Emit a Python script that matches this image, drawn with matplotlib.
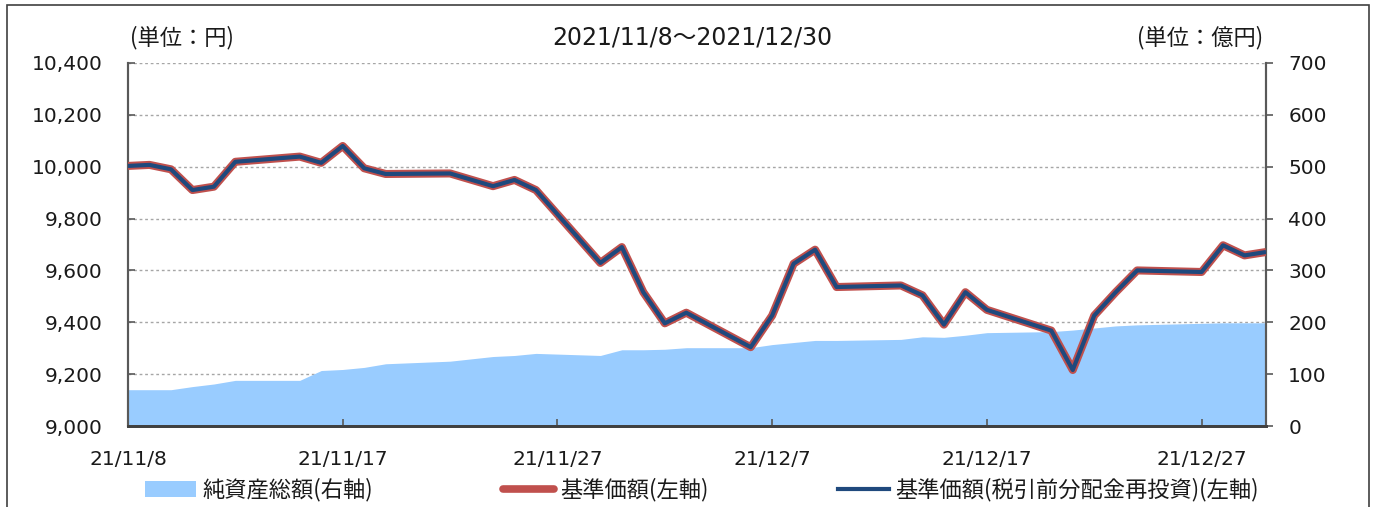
import matplotlib
matplotlib.use("Agg")
import matplotlib.pyplot as plt
import numpy as np
import pandas as pd
from matplotlib.lines import Line2D
from matplotlib.patches import Patch, Rectangle

# ---------------- data ----------------
dates = ["2021-11-07", "2021-11-08", "2021-11-09", "2021-11-10", "2021-11-11", "2021-11-12",
         "2021-11-15", "2021-11-16", "2021-11-17", "2021-11-18", "2021-11-19",
         "2021-11-22", "2021-11-24", "2021-11-25", "2021-11-26",
         "2021-11-29", "2021-11-30", "2021-12-01", "2021-12-02", "2021-12-03",
         "2021-12-06", "2021-12-07", "2021-12-08", "2021-12-09", "2021-12-10",
         "2021-12-13", "2021-12-14", "2021-12-15", "2021-12-16", "2021-12-17",
         "2021-12-20", "2021-12-21", "2021-12-22", "2021-12-23", "2021-12-24",
         "2021-12-27", "2021-12-28", "2021-12-29", "2021-12-30"]

nav = [10003, 10007, 9990, 9910, 9923, 10019,
       10039, 10015, 10080, 9994, 9972,
       9974, 9925, 9949, 9910,
       9629, 9690, 9516, 9396, 9437,
       9304, 9426, 9626, 9680, 9536,
       9542, 9504, 9391, 9516, 9448,
       9368, 9216, 9426, 9516, 9600,
       9594, 9697, 9658, 9671]

nav_reinvest = list(nav)

net_assets = [70, 70, 70, 76, 81, 88,
              88, 107, 109, 113, 120,
              125, 134, 136, 140,
              136, 147, 147, 148, 151,
              151, 157, 161, 165, 165,
              167, 172, 171, 175, 180,
              182, 185, 189, 193, 195,
              198, 199, 199, 199]

x_tick_labels = ["21/11/8", "21/11/17", "21/11/27", "21/12/7", "21/12/17", "21/12/27"]
left_ticks = [9000, 9200, 9400, 9600, 9800, 10000, 10200, 10400]
right_ticks = [0, 100, 200, 300, 400, 500, 600, 700]

series_labels = ["純資産総額(右軸)", "基準価額(左軸)", "基準価額(税引前分配金再投資)(左軸)"]
title_text = "2021/11/8～2021/12/30"
left_unit = "(単位：円)"
right_unit = "(単位：億円)"

# ---------------- style ----------------
C_AREA = "#99CCFF"
C_RED = "#C0504D"
C_BLUE = "#1F497D"
C_GRID = "#A6A6A6"
C_AXIS = "#595959"
C_TEXT = "#1A1A1A"
JP = ["Noto Sans CJK JP", "DejaVu Sans"]
NUM = ["DejaVu Sans", "Noto Sans CJK JP"]
FS = 14.5
FS_JP = 16
FS_TITLE = 17

W, H = 1376, 507
fig = plt.figure(figsize=(W / 100, H / 100), dpi=100)
fig.patch.set_facecolor("white")

left, right, top, bottom = 128, 1266, 63, 426
rect = [left / W, 1 - bottom / H, (right - left) / W, (bottom - top) / H]
ax = fig.add_axes(rect)
ax2 = ax.twinx()
ax2.set_zorder(1)
ax.set_zorder(2)
ax.patch.set_visible(False)

dt = pd.to_datetime(dates)
x = np.asarray((dt - dt[0]).days, dtype=float)

# area on right axis
ax2.fill_between(x, 0, net_assets, color=C_AREA, linewidth=0, zorder=1)
ax2.set_ylim(0, 700)
ax2.set_yticks(right_ticks)
ax2.set_yticklabels([str(v) for v in right_ticks], fontsize=FS, family=NUM, color=C_TEXT)
ax2.yaxis.grid(True, linestyle=(0, (2, 2)), color=C_GRID, linewidth=1.0)
ax2.set_axisbelow(True)
ax2.tick_params(axis="y", direction="out", length=5, width=1.2, color=C_AXIS, pad=11)

# lines on left axis
ax.plot(x, nav, color=C_RED, linewidth=5.8, solid_joinstyle="round", solid_capstyle="butt", zorder=3)
ax.plot(x, nav_reinvest, color=C_BLUE, linewidth=3.0, solid_joinstyle="round", solid_capstyle="butt", zorder=4)
ax.set_xlim(0, 53)
ax.set_ylim(9000, 10400)
ax.set_yticks(left_ticks)
ax.set_yticklabels([f"{v:,}" for v in left_ticks], fontsize=FS, family=NUM, color=C_TEXT)
ax.set_xticks(np.arange(0, 51, 10))
ax.set_xticklabels(x_tick_labels, fontsize=FS, family=NUM, color=C_TEXT)
ax.tick_params(axis="y", direction="in", length=5, width=1.2, color=C_AXIS, pad=18)
ax.tick_params(axis="x", direction="in", length=5, width=1.2, color=C_AXIS, pad=17)

for a in (ax, ax2):
    a.spines["top"].set_visible(False)
    a.spines["left"].set_color(C_AXIS)
    a.spines["right"].set_color(C_AXIS)
    a.spines["left"].set_linewidth(1.5)
    a.spines["right"].set_linewidth(1.5)
    a.spines["bottom"].set_color("#404040")
    a.spines["bottom"].set_linewidth(2.0)

# header texts
yh = 1 - 38 / H
fig.text(130 / W, yh, left_unit, ha="left", va="center", fontsize=FS_JP, family=JP, color=C_TEXT)
fig.text(1263 / W, yh, right_unit, ha="right", va="center", fontsize=FS_JP, family=JP, color=C_TEXT)
fig.text(692 / W, yh, title_text, ha="center", va="center", fontsize=FS_TITLE, family=NUM, color=C_TEXT)

# legend
handles = [Patch(facecolor=C_AREA, edgecolor="none"),
           Line2D([], [], color=C_RED, linewidth=5.5, solid_capstyle="round"),
           Line2D([], [], color=C_BLUE, linewidth=3.0)]
fig.legend(handles, series_labels, loc="center left",
           bbox_to_anchor=(145 / W, 1 - 490 / H), bbox_transform=fig.transFigure,
           ncol=3, frameon=False, borderpad=0, borderaxespad=0,
           handlelength=2.3, handletextpad=0.27, columnspacing=5.85,
           prop={"family": JP, "size": FS_JP}, labelcolor=C_TEXT)

# outer border
fig.add_artist(Rectangle((7 / W, -0.05), (1369 - 7) / W, 1 - 5 / H + 0.05,
                         transform=fig.transFigure, fill=False,
                         edgecolor="#404040", linewidth=1.2))

fig.savefig("out.png", dpi=100, facecolor="white")
